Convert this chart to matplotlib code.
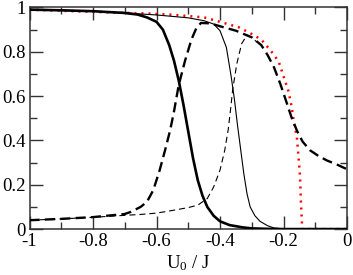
import matplotlib
matplotlib.use("Agg")
import matplotlib.pyplot as plt
from matplotlib.ticker import MultipleLocator, FixedLocator, FixedFormatter

plt.rcParams['font.family'] = ['Liberation Serif', 'DejaVu Serif']
plt.rcParams['mathtext.fontset'] = 'custom'
plt.rcParams['mathtext.rm'] = 'Liberation Serif'
plt.rcParams['mathtext.it'] = 'Liberation Serif'
plt.rcParams['axes.unicode_minus'] = False

# thick solid
u_a = [-1, -0.9, -0.8, -0.7, -0.66, -0.63, -0.6, -0.58, -0.56, -0.545, -0.53, -0.515,
       -0.5, -0.485, -0.47, -0.455, -0.44, -0.42, -0.4, -0.37, -0.33, -0.3, -0.25, -0.2, 0]
v_a = [0.99, 0.987, 0.983, 0.975, 0.968, 0.955, 0.935, 0.9, 0.83, 0.76, 0.67, 0.56,
       0.44, 0.32, 0.22, 0.15, 0.1, 0.06, 0.035, 0.018, 0.008, 0.003, 0.001, 0, 0]
# thin solid
u_b = [-1, -0.9, -0.8, -0.7, -0.6, -0.5, -0.45, -0.42, -0.4, -0.38, -0.365, -0.355,
       -0.345, -0.335, -0.325, -0.315, -0.305, -0.29, -0.274, -0.25, -0.23, -0.2, 0]
v_b = [0.99, 0.987, 0.983, 0.975, 0.966, 0.953, 0.94, 0.925, 0.895, 0.82, 0.69, 0.59,
       0.47, 0.36, 0.25, 0.16, 0.10, 0.06, 0.035, 0.015, 0.005, 0.001, 0]
# thick dashed
u_c = [-1, -0.9, -0.8, -0.7, -0.68, -0.65, -0.63, -0.61, -0.59, -0.573, -0.557, -0.545,
       -0.53, -0.51, -0.49, -0.475, -0.46, -0.43, -0.4, -0.35, -0.3, -0.27, -0.25, -0.23,
       -0.21, -0.19, -0.175, -0.158, -0.14, -0.117, -0.09, -0.064, -0.03, 0]
v_c = [0.04, 0.046, 0.054, 0.068, 0.078, 0.1, 0.123, 0.176, 0.266, 0.356, 0.446, 0.53,
       0.65, 0.76, 0.855, 0.905, 0.93, 0.928, 0.915, 0.895, 0.865, 0.83, 0.785, 0.73,
       0.655, 0.57, 0.505, 0.445, 0.395, 0.356, 0.33, 0.31, 0.29, 0.27]
# thin dashed
u_d = [-1, -0.9, -0.8, -0.7, -0.65, -0.6, -0.55, -0.5, -0.47, -0.44, -0.42, -0.4,
       -0.385, -0.374, -0.366, -0.36, -0.347, -0.332, -0.315, -0.3, -0.285]
v_d = [0.04, 0.046, 0.053, 0.062, 0.066, 0.072, 0.084, 0.097, 0.108, 0.138, 0.19, 0.266,
       0.356, 0.45, 0.55, 0.63, 0.746, 0.836, 0.875, 0.865, 0.845]
# red dotted
u_e = [-1, -0.8, -0.62, -0.55, -0.45, -0.4, -0.34, -0.3, -0.27, -0.24, -0.215, -0.2,
       -0.185, -0.174, -0.168, -0.158, -0.153, -0.148, -0.145, -0.141, 0]
v_e = [0.99, 0.98, 0.972, 0.967, 0.955, 0.935, 0.91, 0.88, 0.855, 0.805, 0.755, 0.69,
       0.625, 0.55, 0.49, 0.415, 0.33, 0.24, 0.12, 0.0, 0]

x_ticks = [-1, -0.8, -0.6, -0.4, -0.2, 0]
x_labels = ['-1', '-0.8', '-0.6', '-0.4', '-0.2', '0']
y_ticks = [0, 0.2, 0.4, 0.6, 0.8, 1]
y_labels = ['0', '0.2', '0.4', '0.6', '0.8', '1']

fig = plt.figure(figsize=(3.53, 2.75), dpi=100)
ax = fig.add_axes([0.0836, 0.167, 0.983 - 0.0836, 0.973 - 0.167])

ax.plot(u_e, v_e, color='red', lw=1.8, linestyle=(0, (0.8, 2.0)), zorder=2)
ax.plot(u_a, v_a, color='black', lw=1.9, zorder=3)
ax.plot(u_b, v_b, color='black', lw=0.8, zorder=3)
ax.plot(u_c, v_c, color='black', lw=1.7, linestyle=(0, (4.3, 2.2)), zorder=3)
ax.plot(u_d, v_d, color='black', lw=0.8, linestyle=(0, (5.5, 3.5)), zorder=3)

ax.set_xlim(-1, 0)
ax.set_ylim(0, 1)
ax.xaxis.set_major_locator(FixedLocator(x_ticks))
ax.xaxis.set_major_formatter(FixedFormatter(x_labels))
ax.yaxis.set_major_locator(FixedLocator(y_ticks))
ax.yaxis.set_major_formatter(FixedFormatter(y_labels))
ax.xaxis.set_minor_locator(MultipleLocator(0.1))
ax.yaxis.set_minor_locator(MultipleLocator(0.1))
ax.tick_params(which='both', direction='in', top=True, right=True, width=1.0,
               color='#333333', labelsize=13.5, pad=3)
ax.tick_params(which='major', length=9.5)
ax.tick_params(which='minor', length=5)
for s in ax.spines.values():
    s.set_linewidth(1.1)
    s.set_color('#333333')
ax.set_xlabel('U$_0$ / J', fontsize=13.5, labelpad=2)

fig.savefig('out.png', dpi=100)
